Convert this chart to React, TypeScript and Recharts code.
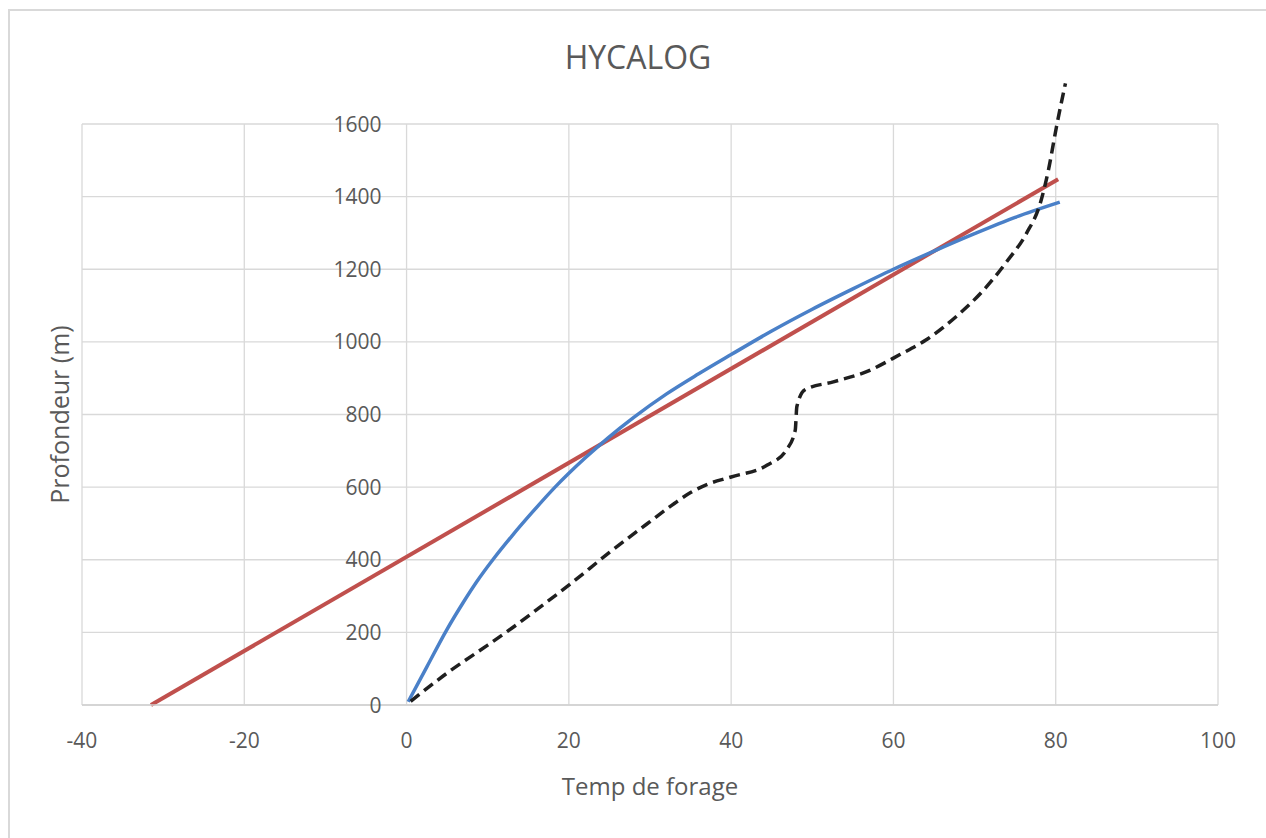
import { LineChart, Line, XAxis, YAxis, CartesianGrid } from "recharts"

const WIDTH = 1266
const HEIGHT = 838
const MARGIN = { top: 124, right: 48, bottom: 43, left: 38 }
const Y_AXIS_W = 44
const X_AXIS_H = 90

const FONT = "'Open Sans', sans-serif"
const TEXT = "#595959"
const GRID = "#d9d9d9"

const X_DOMAIN: [number, number] = [-40, 100]
const Y_DOMAIN: [number, number] = [0, 1600]
const X_TICKS = [-40, -20, 0, 20, 40, 60, 80, 100]
const Y_TICKS = [0, 200, 400, 600, 800, 1000, 1200, 1400, 1600]

// linear fit, drawn between its two ends
const trendX = [-31.5, 80.3]
const trendY = [0, 1448]

// fitted curve
const curveX = [0.2, 2.5, 4.9, 7, 8.6, 10.7, 13, 15.5, 18.3, 20, 22, 24.8, 28, 32, 36, 40, 45, 50, 55, 60, 65, 70, 75, 80.5]
const curveY = [9, 105, 205, 283, 338, 402, 466, 531, 600, 638, 680, 735, 792, 856, 912, 965, 1030, 1090, 1146, 1200, 1250, 1298, 1343, 1385]

// measured drilling log
const logX = [0.5, 5, 10, 13, 16, 20, 25, 30, 33, 35, 37, 40, 44.4, 46.8, 47.9, 48.1, 49.1, 52.6, 56.7, 60.8, 64, 68, 71, 74, 76.4, 78.1, 79.1, 80.1, 81.2]
const logY = [10, 88, 165, 212, 262, 330, 420, 505, 555, 585, 607, 628, 660, 702, 757, 822, 868, 890, 918, 965, 1005, 1075, 1140, 1222, 1299, 1382, 1473, 1593, 1712]

const toPoints = (xs: number[], ys: number[]) => xs.map((x, i) => ({ x, y: ys[i] }))

const trendData = toPoints(trendX, trendY)
const curveData = toPoints(curveX, curveY)
const logData = toPoints(logX, logY)

// the value axis sits on x = 0, not at the left of the plot
const PLOT_LEFT = MARGIN.left + Y_AXIS_W
const PLOT_W = WIDTH - PLOT_LEFT - MARGIN.right
const ZERO_X = PLOT_LEFT + ((0 - X_DOMAIN[0]) / (X_DOMAIN[1] - X_DOMAIN[0])) * PLOT_W

function YTick({ y, payload }: { y: number; payload: { value: number } }) {
  return (
    <text x={ZERO_X - 25} y={y} dy="0.36em" textAnchor="end" fill={TEXT} fontSize={21} fontFamily={FONT}>
      {payload.value}
    </text>
  )
}

export default function App() {
  return (
    <div style={{ position: "absolute", left: 0, top: 0, width: WIDTH, height: HEIGHT, overflow: "hidden", background: "#fff" }}>
      {/* the log runs past 1600, so series are not clipped to the plot */}
      <style>{`.recharts-surface [clip-path] { clip-path: none !important; }`}</style>
      <div
        style={{
          position: "absolute",
          left: 8,
          top: 9,
          width: WIDTH + 40,
          height: HEIGHT + 40,
          border: `2px solid ${GRID}`,
        }}
      />
      <div
        style={{
          position: "absolute",
          left: 5,
          top: 41,
          width: WIDTH,
          textAlign: "center",
          fontFamily: FONT,
          fontSize: 32,
          lineHeight: "32px",
          color: TEXT,
        }}
      >
        HYCALOG
      </div>
      <div style={{ position: "absolute", left: 0, top: 0 }}>
        <LineChart width={WIDTH} height={HEIGHT} margin={MARGIN} style={{ overflow: "visible" }}>
          <CartesianGrid stroke={GRID} strokeWidth={1.3} />
          <XAxis
            type="number"
            dataKey="x"
            domain={X_DOMAIN}
            ticks={X_TICKS}
            height={X_AXIS_H}
            tickSize={0}
            tickMargin={28}
            tickLine={false}
            axisLine={{ stroke: "#d0d0d0", strokeWidth: 1.5 }}
            tick={{ fill: TEXT, fontSize: 21, fontFamily: FONT }}
            label={{ value: "Temp de forage", position: "insideBottom", offset: 0, fill: TEXT, fontSize: 24, fontFamily: FONT }}
          />
          <YAxis
            type="number"
            dataKey="y"
            domain={Y_DOMAIN}
            ticks={Y_TICKS}
            allowDataOverflow
            width={Y_AXIS_W}
            axisLine={false}
            tickLine={false}
            tick={YTick}
            label={{ value: "Profondeur (m)", angle: -90, position: "center", fill: TEXT, fontSize: 25, fontFamily: FONT }}
          />
          <Line
            data={trendData}
            dataKey="y"
            type="linear"
            stroke="#c0504d"
            strokeWidth={4}
            dot={false}
            activeDot={false}
            isAnimationActive={false}
          />
          <Line
            data={curveData}
            dataKey="y"
            type="monotone"
            stroke="#4a80c8"
            strokeWidth={3.5}
            dot={false}
            activeDot={false}
            isAnimationActive={false}
          />
          <Line
            data={logData}
            dataKey="y"
            type="monotone"
            stroke="#1f1f1f"
            strokeWidth={3.5}
            strokeDasharray="11 6"
            dot={false}
            activeDot={false}
            isAnimationActive={false}
          />
        </LineChart>
      </div>
    </div>
  )
}
